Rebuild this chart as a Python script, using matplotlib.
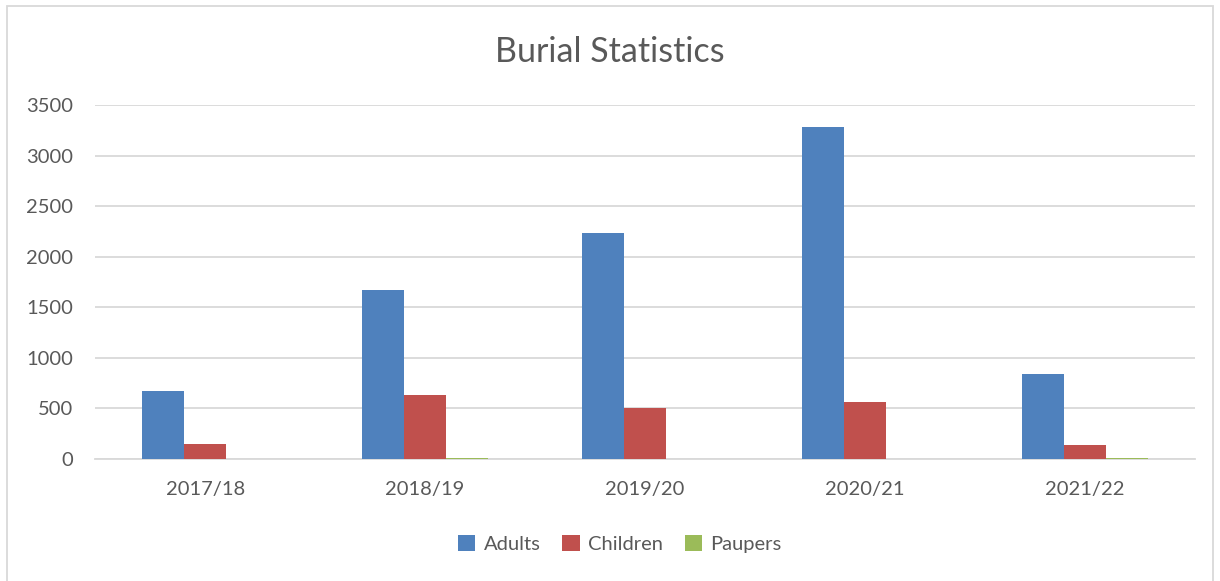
import matplotlib.pyplot as plt
import numpy as np
from matplotlib.patches import Rectangle

plt.rcParams['font.family'] = ['Lato', 'DejaVu Sans']

years = ['2017/18', '2018/19', '2019/20', '2020/21', '2021/22']
adults = [675, 1670, 2235, 3280, 838]
children = [148, 630, 505, 565, 140]
paupers = [0, 10, 0, 2, 10]

series = [('Adults', adults, '#4F81BD'),
          ('Children', children, '#C0504D'),
          ('Paupers', paupers, '#9BBB59')]

text_color = '#595959'
grid_color = '#D9D9D9'

fig = plt.figure(figsize=(12.2, 5.81), dpi=100)
ax = fig.add_axes([0.078, 0.21, 0.9015, 0.609])

x = np.arange(len(years))
w = 0.19
for i, (name, vals, col) in enumerate(series):
    ax.bar(x + (i - 1) * w, vals, width=w, color=col, label=name, zorder=3)

ax.set_xlim(-0.5, len(years) - 0.5)
ax.set_ylim(0, 3500)
ax.set_yticks(np.arange(0, 3501, 500))
ax.set_xticks(x)
ax.set_xticklabels(years)
ax.grid(axis='y', color=grid_color, linewidth=1.3, zorder=0)
for s in ['top', 'right', 'left']:
    ax.spines[s].set_visible(False)
ax.spines['bottom'].set_color(grid_color)
ax.spines['bottom'].set_linewidth(1.3)
ax.tick_params(axis='both', length=0, labelsize=14.5, colors=text_color)
ax.tick_params(axis='y', pad=16)
ax.tick_params(axis='x', pad=16)

fig.text(0.5, 0.91, 'Burial Statistics', ha='center', va='center',
         fontsize=24.5, color=text_color)

leg = fig.legend(loc='center', bbox_to_anchor=(0.508, 0.064), ncol=3,
                 frameon=False, fontsize=14.5, handlelength=0.85, handleheight=0.85,
                 handletextpad=0.4, columnspacing=1.1)
for t in leg.get_texts():
    t.set_color(text_color)

fig.patches.append(Rectangle((7 / 1220, -0.05), 1206 / 1220, 1 - 6 / 581 + 0.05,
                             transform=fig.transFigure, fill=False,
                             edgecolor=grid_color, linewidth=1.3))

fig.savefig('out.png', dpi=100)
